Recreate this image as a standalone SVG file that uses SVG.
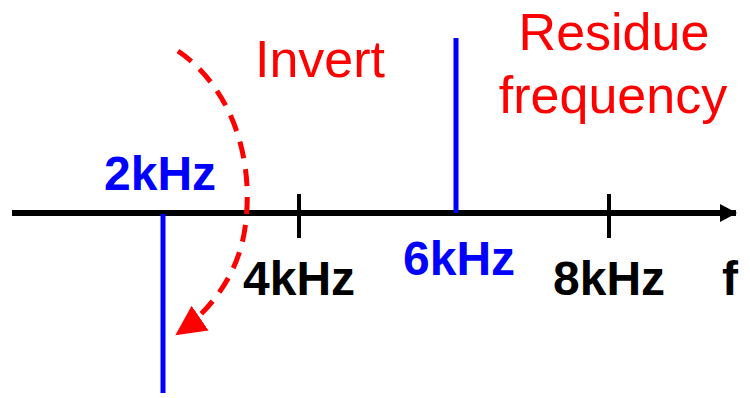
<svg xmlns="http://www.w3.org/2000/svg" width="750" height="398" viewBox="0 0 750 398">
<style>
.lbl{font-family:"Liberation Sans",Arial,sans-serif;font-weight:bold;font-size:48px}
.red{font-family:"Liberation Sans",Arial,sans-serif;font-size:52px;fill:#ff0000}
</style>
<defs>
<marker id="ah" markerUnits="userSpaceOnUse" markerWidth="20" markerHeight="20" refX="16" refY="9" orient="auto">
<path d="M0,0 L17,9 L0,18 Z" fill="#000"/>
</marker>
<marker id="rh" markerUnits="userSpaceOnUse" markerWidth="34" markerHeight="34" refX="28" refY="15" orient="auto">
<path d="M0,0 L30,15 L0,30 Z" fill="#ff0000"/>
</marker>
</defs>
<rect width="750" height="398" fill="#fff"/>
<g id="connectors">
<line x1="12" y1="213" x2="736" y2="213" stroke="#000" stroke-width="6" marker-end="url(#ah)"/>
<line x1="299" y1="194" x2="299" y2="238" stroke="#000" stroke-width="4"/>
<line x1="609" y1="194" x2="609" y2="238" stroke="#000" stroke-width="4"/>
<line x1="163" y1="214" x2="163" y2="393" stroke="#0000ff" stroke-width="5"/>
<line x1="456" y1="38" x2="456" y2="213" stroke="#0000ff" stroke-width="5"/>
<path d="M178,51 C232,88 255,160 245,228 C239,272 212,310 177,334" fill="none" stroke="#ff0000" stroke-width="5" stroke-dasharray="17,11" marker-end="url(#rh)"/>
</g>
<g id="label-2kHz"><text class="lbl" x="104" y="190" fill="#0000ff">2kHz</text></g>
<g id="label-4kHz"><text class="lbl" x="243" y="295" fill="#000">4kHz</text></g>
<g id="label-6kHz"><text class="lbl" x="403" y="275" fill="#0000ff">6kHz</text></g>
<g id="label-8kHz"><text class="lbl" x="553" y="295" fill="#000">8kHz</text></g>
<g id="label-f"><text class="lbl" x="722" y="295" fill="#000">f</text></g>
<g id="label-invert"><text class="red" x="255" y="77">Invert</text></g>
<g id="label-residue"><text class="red" text-anchor="middle" x="614" y="50">Residue</text><text class="red" text-anchor="middle" x="613" y="113">frequency</text></g>
</svg>
